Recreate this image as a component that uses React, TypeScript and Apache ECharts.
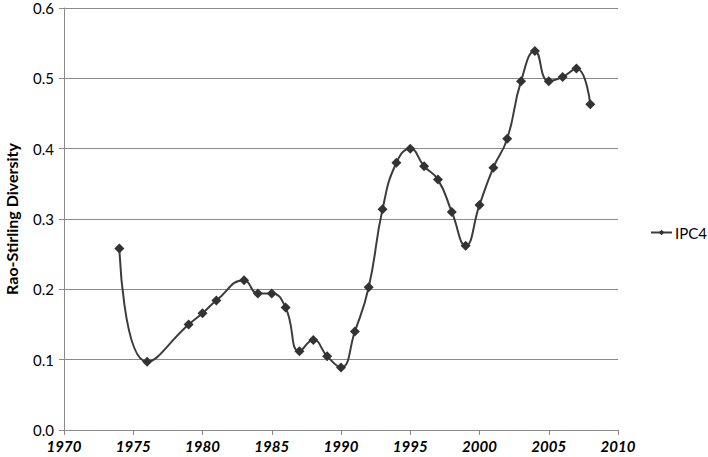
import React, { useEffect, useRef } from "react";
import * as echarts from "echarts";

const years = [1974, 1976, 1979, 1980, 1981, 1983, 1984, 1985, 1986, 1987, 1988, 1989, 1990, 1991, 1992, 1993, 1994, 1995, 1996, 1997, 1998, 1999, 2000, 2001, 2002, 2003, 2004, 2005, 2006, 2007, 2008];
const ipc4 = [0.258, 0.097, 0.150, 0.166, 0.184, 0.213, 0.194, 0.194, 0.174, 0.112, 0.128, 0.105, 0.089, 0.140, 0.203, 0.314, 0.380, 0.400, 0.375, 0.356, 0.310, 0.262, 0.320, 0.373, 0.414, 0.496, 0.539, 0.496, 0.502, 0.514, 0.463];
const seriesName = "IPC4";
const yTitle = "Rao-Stirling Diversity";

export default function App() {
  const ref = useRef<HTMLDivElement>(null);
  useEffect(() => {
    if (!ref.current) return;
    const chart = echarts.init(ref.current, undefined, { renderer: "svg" });
    const font = "Lato, 'Open Sans', 'Liberation Sans', sans-serif";
    chart.setOption({
      animation: false,
      backgroundColor: "#ffffff",
      grid: { left: 64, right: 90, top: 8, bottom: 27, containLabel: false, outerBoundsMode: "none" },
      legend: {
        data: [seriesName],
        orient: "vertical",
        left: 645,
        top: 220,
        itemWidth: 21,
        itemHeight: 7,
        itemGap: 4,
        textStyle: { fontFamily: font, fontSize: 15, color: "#000", padding: [0, 0, 0, -2] },
      },
      xAxis: {
        type: "value",
        min: 1970,
        max: 2010,
        interval: 5,
        splitLine: { show: false },
        axisLine: { lineStyle: { color: "#8a8a8a", width: 1 } },
        axisTick: { show: true, length: 5, lineStyle: { color: "#8a8a8a" } },
        axisLabel: {
          fontFamily: font,
          fontSize: 15,
          fontStyle: "italic",
          fontWeight: "bold",
          color: "#000",
          margin: 8,
          formatter: (v: number) => String(v),
        },
      },
      yAxis: {
        type: "value",
        min: 0,
        max: 0.6,
        interval: 0.1,
        name: yTitle,
        nameLocation: "middle",
        nameGap: 44,
        nameTextStyle: { fontFamily: font, fontSize: 16, fontWeight: "bold", color: "#000", lineHeight: 18 },
        axisLine: { show: true, lineStyle: { color: "#8a8a8a", width: 1 } },
        axisTick: { show: true, length: 5, lineStyle: { color: "#8a8a8a" } },
        splitLine: { show: true, lineStyle: { color: "#8a8a8a", width: 1 } },
        axisLabel: {
          fontFamily: font,
          fontSize: 15,
          lineHeight: 15,
          color: "#000",
          margin: 10,
          formatter: (v: number) => v.toFixed(1),
        },
      },
      series: [
        {
          name: seriesName,
          type: "line",
          smooth: 0.5,
          data: years.map((y, i) => [y, ipc4[i]]),
          symbol: "diamond",
          symbolSize: 10,
          lineStyle: { color: "#3c3c3c", width: 2 },
          itemStyle: { color: "#333333", borderColor: "#333333", borderWidth: 0 },
        },
      ],
    });
    return () => chart.dispose();
  }, []);
  return (
    <div
      ref={ref}
      style={{ position: "fixed", left: 0, top: 0, width: 708, height: 457, background: "#fff" }}
    />
  );
}
